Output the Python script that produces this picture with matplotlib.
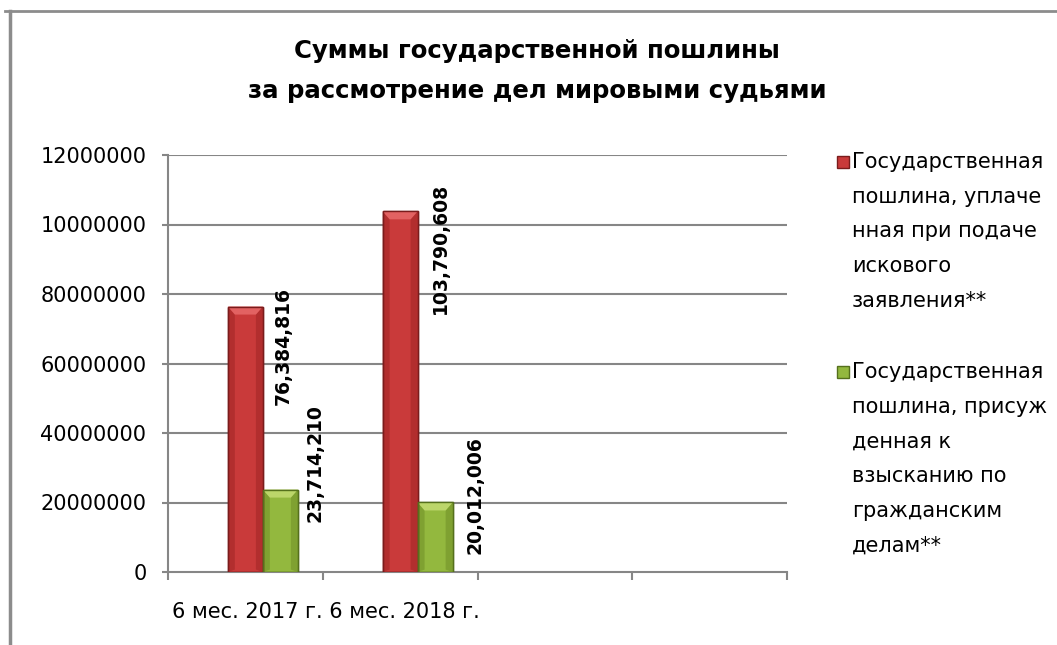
import numpy as np
import matplotlib
matplotlib.use('Agg')
import matplotlib.pyplot as plt
from matplotlib.patches import Rectangle, Polygon
from matplotlib.lines import Line2D

plt.rcParams['font.family'] = ['DejaVu Sans']

#Data
categories = ['6 мес. 2017 г.', '6 мес. 2018 г.']
paid = [76384816, 103790608]
awarded = [23714210, 20012006]
series_names = ['Государственная\nпошлина, уплаче\nнная при подаче\nискового\nзаявления**',
                'Государственная\nпошлина, присуж\nденная к\nвзысканию по\nгражданским\nделам**']
yticks = [0, 20000000, 40000000, 60000000, 80000000, 100000000, 120000000]
ytick_labels = ['0', '20000000', '40000000', '60000000', '80000000', '10000000', '12000000']
title = 'Суммы государственной пошлины\nза рассмотрение дел мировыми судьями'

W, H = 1057, 645
fig = plt.figure(figsize=(W/100, H/100), dpi=100)

#outer frame
fig.add_artist(Line2D([5/W, 1], [1-10.5/H, 1-10.5/H], color='#8c8c8c', lw=2))
fig.add_artist(Line2D([10/W, 10/W], [0, 1-10.5/H], color='#8c8c8c', lw=2.5))

ax = fig.add_axes([168/W, (H-572)/H, (787-168)/W, (572-155)/H])
ax.set_xlim(0, 4)
ax.set_ylim(0, 120000000)

ax.set_yticks(yticks)
ax.set_yticklabels(ytick_labels, fontsize=15)
ax.set_xticks([0, 1, 2, 3, 4])
ax.set_xticklabels([])
ax.tick_params(axis='y', length=4.5, color='#868686', width=1.5, pad=11)
ax.tick_params(axis='x', length=6, color='#868686', width=1.5)
for y in yticks[1:]:
    ax.axhline(y, color='#868686', lw=1.5, zorder=0)
for s in ['top', 'right']:
    ax.spines[s].set_visible(False)
for s in ['left', 'bottom']:
    ax.spines[s].set_color('#868686')
    ax.spines[s].set_linewidth(1.5)

bw = 35/154.75
x = np.arange(len(categories)) + 0.5

def bevel_bar(xc, val, base, light, dark, edge):
    x0, x1 = xc - bw/2, xc + bw/2
    ax.add_patch(Rectangle((x0, 0), bw, val, facecolor=base, edgecolor=edge, lw=1, zorder=3))
    d = bw*0.2
    h = 120000000*8/417
    ax.add_patch(Polygon([(x0, 0), (x0+d, h*0.3), (x0+d, val-h), (x0, val)], closed=True,
                         facecolor=dark, lw=0, alpha=0.5, zorder=4))
    ax.add_patch(Polygon([(x1, 0), (x1-d, h*0.3), (x1-d, val-h), (x1, val)], closed=True,
                         facecolor=dark, lw=0, alpha=0.5, zorder=4))
    ax.add_patch(Polygon([(x0, val), (x1, val), (x1-d, val-h), (x0+d, val-h)], closed=True,
                         facecolor=light, lw=0, zorder=4))
    ax.add_patch(Rectangle((x0, 0), bw, val, facecolor='none', edgecolor=edge, lw=1, zorder=5))

for i in range(len(categories)):
    bevel_bar(x[i], paid[i], '#c93a3a', '#e26262', '#9c2424', '#7a1c1c')
    bevel_bar(x[i] + bw, awarded[i], '#93b83e', '#bcd66a', '#6d8c25', '#55701c')

#value labels (offsets in pixels from bar top centre)
offs_paid = [(38, -39), (40, -37)]
offs_aw = [(35, 27), (40, 7)]
for i in range(len(categories)):
    ax.annotate(f'{paid[i]:,}', (x[i], paid[i]), xytext=offs_paid[i], textcoords='offset pixels',
                rotation=90, ha='center', va='center', fontsize=13.5, fontweight='bold')
    ax.annotate(f'{awarded[i]:,}', (x[i] + bw, awarded[i]), xytext=offs_aw[i], textcoords='offset pixels',
                rotation=90, ha='center', va='center', fontsize=13.5, fontweight='bold')

#category labels
fig.text(172/W, 1-612/H, ' '.join(categories), fontsize=15, ha='left', va='center')

#title
fig.text(537/W, 1-71/H, title, fontsize=17.6, fontweight='bold', ha='center', va='center',
         linespacing=1.85)

#legend
leg_colors = ['#c93a3a', '#93b83e']
leg_edges = ['#7a1c1c', '#55701c']
leg_top = [152, 362]
for name, c, e, t in zip(series_names, leg_colors, leg_edges, leg_top):
    fig.add_artist(Rectangle((837/W, 1-(t+16)/H), 12/W, 12/H, facecolor=c, edgecolor=e, lw=1))
    fig.text(852/W, 1-t/H, name, fontsize=15, ha='left', va='top', linespacing=1.92)

plt.savefig('out.png', dpi=100)
